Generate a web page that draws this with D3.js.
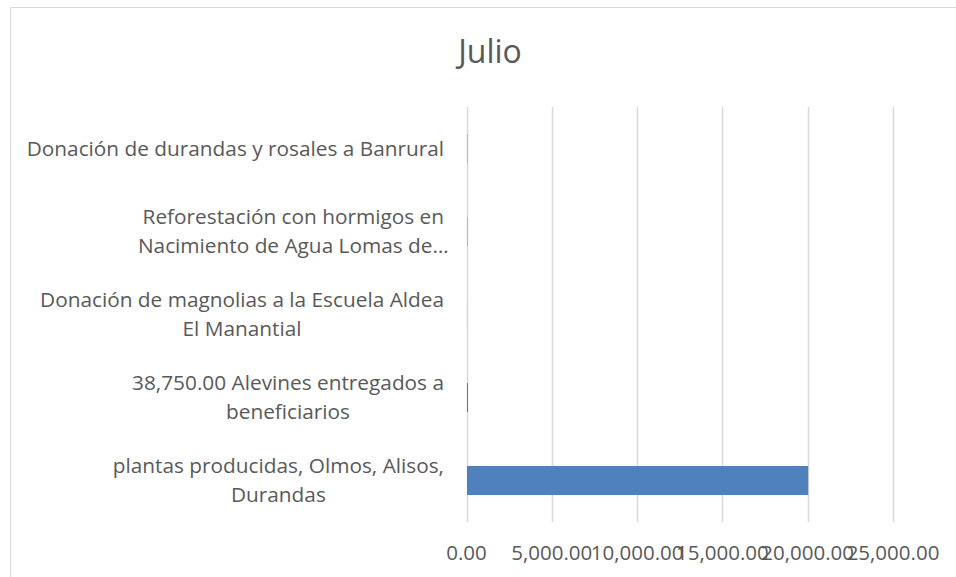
<!DOCTYPE html>
<html>
<head>
<meta charset="utf-8">
<script src="https://cdn.jsdelivr.net/npm/d3@7"></script>
<style>
  html, body { margin: 0; padding: 0; background: #fff; }
  svg { display: block; font-family: "Open Sans", sans-serif; }
</style>
</head>
<body>
<svg id="chart" width="956" height="577"></svg>
<script>
const title = "Julio";
const categories = [
  ["Donación de durandas y rosales a Banrural"],
  ["Reforestación con hormigos en", "Nacimiento de Agua Lomas de…"],
  ["Donación de magnolias a la Escuela Aldea", "El Manantial"],
  ["38,750.00 Alevines entregados a", "beneficiarios"],
  ["plantas producidas, Olmos, Alisos,", "Durandas"]
];
const values = [20, 20, 4, 60, 20000];
const tickValues = [0, 5000, 10000, 15000, 20000, 25000];

const svg = d3.select("#chart");
const margin = { left: 466.5, right: 63, top: 107, bottom: 55 };
const W = 956, H = 577;

// chart border
svg.append("rect")
  .attr("x", 10.5).attr("y", 7.5)
  .attr("width", 1000).attr("height", 700)
  .attr("fill", "#fff").attr("stroke", "#d9d9d9").attr("stroke-width", 1);

const x = d3.scaleLinear().domain([0, 25000]).range([margin.left, W - margin.right]);
const y = d3.scaleBand().domain(d3.range(categories.length))
  .range([margin.top, H - margin.bottom]).paddingInner(0.65).paddingOuter(0.325);
const yb = d3.scaleBand().domain(d3.range(categories.length))
  .range([margin.top, H - margin.bottom]);

// gridlines
svg.append("g").selectAll("line").data(tickValues).join("line")
  .attr("x1", d => Math.round(x(d)) + 0.5).attr("x2", d => Math.round(x(d)) + 0.5)
  .attr("y1", margin.top).attr("y2", H - margin.bottom)
  .attr("stroke", "#d9d9d9").attr("stroke-width", 1.5);

// bars
svg.append("g").selectAll("rect").data(values).join("rect")
  .attr("x", x(0) + 0.5)
  .attr("y", (d, i) => y(i))
  .attr("width", d => Math.max(0, x(d) - x(0)))
  .attr("height", y.bandwidth())
  .attr("fill", "#4f81bd");

// x tick labels
const fmt = d3.format(",.2f");
svg.append("g").selectAll("text").data(tickValues).join("text")
  .attr("x", d => x(d)).attr("y", 560)
  .attr("text-anchor", "middle")
  .attr("font-size", 20.5).attr("fill", "#595959")
  .text(d => fmt(d));

// category labels
const lineH = 28.5;
const labelRight = 444;
const lab = svg.append("g");
categories.forEach((lines, i) => {
  const cy = yb(i) + yb.bandwidth() / 2;
  const t = lab.append("text").attr("font-size", 20.8).attr("fill", "#595959")
    .attr("text-anchor", "middle");
  const n = lines.length;
  const spans = lines.map((s, k) => t.append("tspan").text(s)
    .attr("y", cy + (k - (n - 1) / 2) * lineH + 7));
  const w0 = spans[0].node().getComputedTextLength();
  const cx = labelRight - w0 / 2;
  spans.forEach(sp => sp.attr("x", cx));
});

// title
svg.append("text")
  .attr("x", 490).attr("y", 63)
  .attr("text-anchor", "middle")
  .attr("font-size", 32).attr("font-weight", 400)
  .attr("fill", "#595959")
  .text(title);
</script>
</body>
</html>
